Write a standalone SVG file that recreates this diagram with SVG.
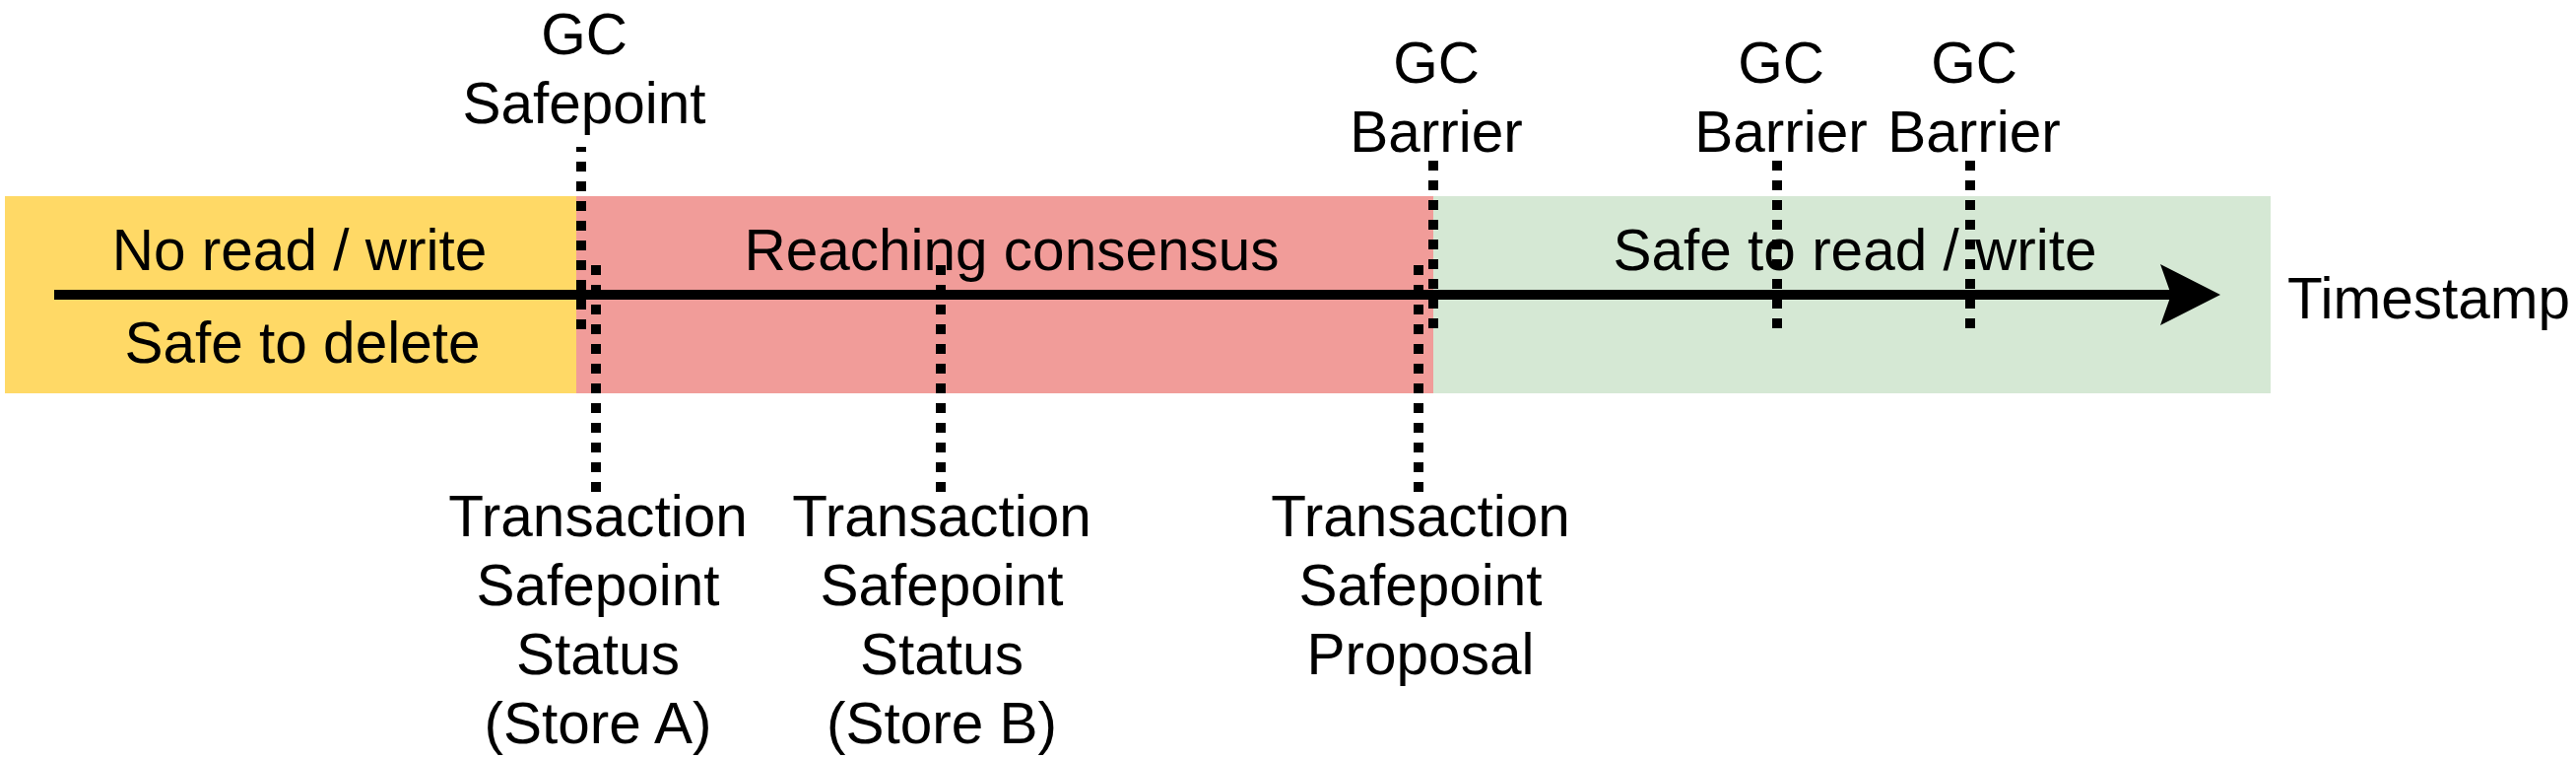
<svg xmlns="http://www.w3.org/2000/svg" width="2615" height="770" viewBox="0 0 2615 770">
  <style>
    text { font-family: "Liberation Sans", Arial, sans-serif; font-size: 58.5px; fill: #000000; text-anchor: middle; }
    .dot { stroke: #000000; stroke-width: 10; stroke-dasharray: 10 10; fill: none; }
  </style>
  <defs>
    <marker id="arrow" markerUnits="userSpaceOnUse" viewBox="0 0 61 62" refX="11" refY="31" markerWidth="61" markerHeight="62" orient="auto">
      <path d="M0,0 L61,31 L0,62 L11,31 Z" fill="#000000"/>
    </marker>
  </defs>
  <rect width="2615" height="770" fill="#ffffff"/>

  <g id="zone-delete">
    <rect x="5" y="199" width="580" height="200" fill="#FFD966"/>
    <text x="304" y="274">No read / write</text>
    <text x="307" y="368">Safe to delete</text>
  </g>
  <g id="zone-consensus">
    <rect x="585" y="199" width="870" height="200" fill="#F19C99"/>
    <text x="1027" y="274">Reaching consensus</text>
  </g>
  <g id="zone-safe">
    <rect x="1455" y="199" width="850" height="200" fill="#D5E8D4"/>
    <text x="1883" y="274">Safe to read / write</text>
  </g>

  <g id="connectors">
    <line x1="55" y1="299" x2="2204" y2="299" stroke="#000000" stroke-width="10" marker-end="url(#arrow)"/>
    <line class="dot" x1="590" y1="149" x2="590" y2="334" stroke-dashoffset="5"/>
    <line class="dot" x1="1455" y1="163" x2="1455" y2="333"/>
    <line class="dot" x1="1804" y1="163" x2="1804" y2="333"/>
    <line class="dot" x1="2000" y1="163" x2="2000" y2="333"/>
    <line class="dot" x1="605" y1="269" x2="605" y2="499"/>
    <line class="dot" x1="955" y1="269" x2="955" y2="499"/>
    <line class="dot" x1="1440" y1="269" x2="1440" y2="499"/>
  </g>

  <g id="gc-safepoint">
    <text x="593" y="55">GC</text>
    <text x="593" y="125">Safepoint</text>
  </g>
  <g id="gc-barrier-1">
    <text x="1458" y="84">GC</text>
    <text x="1458" y="154">Barrier</text>
  </g>
  <g id="gc-barrier-2">
    <text x="1808" y="84">GC</text>
    <text x="1808" y="154">Barrier</text>
  </g>
  <g id="gc-barrier-3">
    <text x="2004" y="84">GC</text>
    <text x="2004" y="154">Barrier</text>
  </g>
  <g id="ts-status-a">
    <text x="607" y="544">Transaction</text>
    <text x="607" y="614">Safepoint</text>
    <text x="607" y="684">Status</text>
    <text x="607" y="754">(Store A)</text>
  </g>
  <g id="ts-status-b">
    <text x="956" y="544">Transaction</text>
    <text x="956" y="614">Safepoint</text>
    <text x="956" y="684">Status</text>
    <text x="956" y="754">(Store B)</text>
  </g>
  <g id="ts-proposal">
    <text x="1442" y="544">Transaction</text>
    <text x="1442" y="614">Safepoint</text>
    <text x="1442" y="684">Proposal</text>
  </g>
  <g id="timestamp-label">
    <text x="2322" y="323" style="text-anchor:start">Timestamp</text>
  </g>
</svg>
